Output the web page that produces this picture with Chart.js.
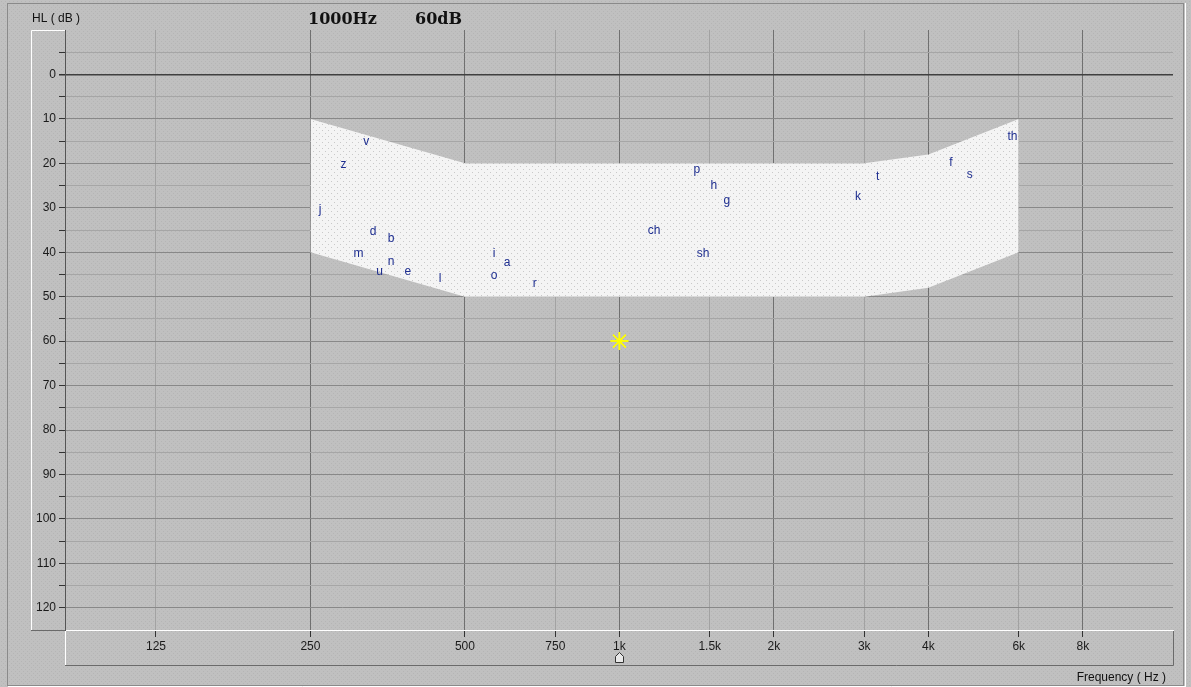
<!DOCTYPE html>
<html>
<head>
<meta charset="utf-8">
<script src="https://cdn.jsdelivr.net/npm/chart.js@4"></script>
<style>
  html, body { margin: 0; padding: 0; background: #c0c0c0; }
  canvas { display: block; }
</style>
</head>
<body>
<canvas id="audiogram" width="1191" height="687"></canvas>
<script>
'use strict';

// axis ticks
var freqTicks = [125, 250, 500, 750, 1000, 1500, 2000, 3000, 4000, 6000, 8000];
var freqLabels = ['125', '250', '500', '750', '1k', '1.5k', '2k', '3k', '4k', '6k', '8k'];
var dbTicks = [-5, 0, 5, 10, 15, 20, 25, 30, 35, 40, 45, 50, 55, 60, 65, 70, 75, 80, 85, 90, 95, 100, 105, 110, 115, 120];

// speech banana outline
var bananaFreq = [250, 500, 3000, 4000, 6000];
var bananaTop = [10, 20, 20, 18, 10];
var bananaBottom = [40, 50, 50, 48, 40];

// speech sounds
var sounds = ['v', 'z', 'j', 'd', 'b', 'm', 'n', 'u', 'e', 'l', 'i', 'a', 'o', 'r', 'ch', 'p', 'h', 'g', 'sh', 'k', 't', 'f', 's', 'th'];
var soundFreq = [321, 290, 261, 331, 359, 310, 359, 341, 387, 447, 570, 604, 570, 684, 1169, 1416, 1528, 1620, 1456, 2916, 3185, 4425, 4819, 5836];
var soundDb = [15.1, 20.3, 30.4, 35.3, 37, 40.4, 42.2, 44.4, 44.4, 46, 40.4, 42.3, 45.2, 47.1, 35.1, 21.5, 25.1, 28.3, 40.4, 27.4, 22.9, 19.9, 22.5, 13.9];

// current tone
var toneFreq = [1000];
var toneDb = [60];

function dots(base, dot, size) {
  var c = document.createElement('canvas');
  c.width = size; c.height = size;
  var g = c.getContext('2d');
  g.fillStyle = base;
  g.fillRect(0, 0, size, size);
  g.fillStyle = dot;
  g.fillRect(1, 1, 1, 1);
  g.fillRect(Math.floor(size / 2) + 1, Math.floor(size / 2) + 1, 1, 1);
  return g.createPattern(c, 'repeat');
}

function pts(xs, ys) {
  return xs.map(function(x, i) { return { x: x, y: ys[i] }; });
}

function seg(c, x1, y1, x2, y2) {
  c.beginPath();
  c.moveTo(x1, y1);
  c.lineTo(x2, y2);
  c.stroke();
}

var bgPattern = dots('#c0c0c0', '#b5b5b5', 4);
var bananaPattern = dots('#f4f4f4', '#c9c9c9', 6);

var frame = {
  id: 'frame',
  beforeDraw: function(chart) {
    var c = chart.ctx, a = chart.chartArea;
    c.save();
    c.fillStyle = bgPattern;
    c.fillRect(0, 0, chart.width, chart.height);
    c.lineWidth = 1;

    // outer sunken frame
    c.strokeStyle = '#8a8a8a';
    c.strokeRect(7.5, 3.5, 1176, 682);
    c.strokeStyle = '#ffffff';
    seg(c, 1185.5, 3, 1185.5, 687);
    seg(c, 8, 686.5, 1186, 686.5);

    // y axis box
    c.strokeStyle = '#ffffff';
    seg(c, 31.5, a.bottom, 31.5, a.top + 0.5);
    seg(c, 31.5, a.top + 0.5, a.left, a.top + 0.5);
    c.strokeStyle = '#6a6a6a';
    seg(c, 31, a.bottom + 0.5, a.left, a.bottom + 0.5);

    // x axis box
    c.strokeStyle = '#ffffff';
    seg(c, a.left + 0.5, a.bottom, a.left + 0.5, 665);
    c.strokeStyle = '#6a6a6a';
    seg(c, a.left, 665.5, a.right + 0.5, 665.5);
    seg(c, a.right + 0.5, a.bottom, a.right + 0.5, 665.5);
    c.restore();
  },
  afterDraw: function(chart) {
    var c = chart.ctx;
    c.save();

    // header texts
    c.fillStyle = '#111111';
    c.textBaseline = 'alphabetic';
    c.font = 'bold 16px "DejaVu Serif"';
    c.textAlign = 'left';
    c.fillText('1000Hz', 308, 24);
    c.fillText('60dB', 415, 24);
    c.font = '12px "Liberation Sans"';
    c.fillText('HL ( dB )', 32, 22);
    c.textAlign = 'right';
    c.fillText('Frequency ( Hz )', 1166, 681);

    // speech sound letters
    var meta = chart.getDatasetMeta(2);
    c.fillStyle = '#1d2d8f';
    c.font = '12px "Liberation Sans"';
    c.textAlign = 'center';
    c.textBaseline = 'middle';
    meta.data.forEach(function(p, i) {
      c.fillText(sounds[i], p.x, p.y);
    });

    // tone marker on top of grid
    var tone = chart.getDatasetMeta(3).data[0];
    tone.draw(c, chart.chartArea);
    c.fillStyle = '#ffff00';
    c.beginPath();
    c.arc(tone.x, tone.y, 2.5, 0, Math.PI * 2);
    c.fill();

    // small marker under the current frequency
    var mx = Math.round(chart.scales.x.getPixelForValue(toneFreq[0])) + 0.5;
    c.fillStyle = '#e8e8e8';
    c.strokeStyle = '#333333';
    c.lineWidth = 1;
    c.beginPath();
    c.moveTo(mx - 4, 662.5);
    c.lineTo(mx - 4, 656.5);
    c.lineTo(mx, 652.5);
    c.lineTo(mx + 4, 656.5);
    c.lineTo(mx + 4, 662.5);
    c.closePath();
    c.fill();
    c.stroke();
    c.restore();
  }
};

var ctx = document.getElementById('audiogram').getContext('2d');

var chart = new Chart(ctx, {
  type: 'line',
  data: {
    datasets: [{
      label: 'banana top',
      data: pts(bananaFreq, bananaTop),
      borderWidth: 0,
      pointRadius: 0,
      fill: false
    },
    {
      label: 'banana bottom',
      data: pts(bananaFreq, bananaBottom),
      borderWidth: 0,
      pointRadius: 0,
      backgroundColor: bananaPattern,
      fill: '-1'
    },
    {
      label: 'sounds',
      data: pts(soundFreq, soundDb),
      showLine: false,
      pointRadius: 0
    },
    {
      label: 'tone',
      data: pts(toneFreq, toneDb),
      showLine: false,
      pointStyle: 'star',
      pointRadius: 9,
      borderColor: '#ffff00',
      backgroundColor: '#ffff00',
      borderWidth: 1.5
    }]
  },
  options: {
    responsive: false,
    devicePixelRatio: 1,
    animation: false,
    events: [],
    layout: { padding: { left: 0, top: 30, right: 18, bottom: 22 } },
    plugins: {
      legend: { display: false },
      tooltip: { enabled: false },
      filler: { propagate: false }
    },
    scales: {
      x: {
        type: 'logarithmic',
        min: 83.1,
        max: 11990,
        z: 1,
        afterBuildTicks: function(scale) {
          scale.ticks = freqTicks.map(function(v) { return { value: v }; });
        },
        afterFit: function(scale) {
          scale.height = 35;
          scale.paddingLeft = 0;
          scale.paddingRight = 0;
        },
        border: { color: '#ffffff', width: 1 },
        grid: {
          color: function(c) {
            var v = c.tick ? c.tick.value : 0;
            return (v >= 250 && Number.isInteger(Math.log2(v / 250))) ? '#707070' : '#a2a2a2';
          },
          tickColor: '#333333',
          tickLength: 7,
          lineWidth: 1
        },
        ticks: {
          autoSkip: false,
          maxRotation: 0,
          padding: 2,
          color: '#1a1a1a',
          font: { family: 'Liberation Sans', size: 12 },
          callback: function(v, i) { return freqLabels[i]; }
        }
      },
      y: {
        type: 'linear',
        min: -10,
        max: 125,
        reverse: true,
        z: 1,
        afterBuildTicks: function(scale) {
          scale.ticks = dbTicks.map(function(v) { return { value: v }; });
        },
        afterFit: function(scale) {
          scale.width = 65;
          scale.paddingTop = 0;
          scale.paddingBottom = 0;
        },
        border: { color: '#555555', width: 1 },
        grid: {
          color: function(c) {
            var v = c.tick ? c.tick.value : 1;
            if (v === 0) return '#404040';
            return v % 10 === 0 ? '#888888' : '#a6a6a6';
          },
          lineWidth: function(c) {
            return (c.tick && c.tick.value === 0) ? 1.5 : 1;
          },
          tickColor: '#333333',
          tickLength: 6
        },
        ticks: {
          autoSkip: false,
          padding: 3,
          color: '#1a1a1a',
          font: { family: 'Liberation Sans', size: 12 },
          callback: function(v) { return (v >= 0 && v % 10 === 0) ? String(v) : ''; }
        }
      }
    }
  },
  plugins: [frame]
});
</script>
</body>
</html>
